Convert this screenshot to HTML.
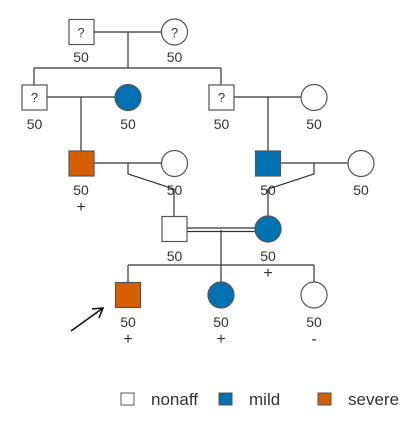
<!DOCTYPE html>
<html><head><meta charset="utf-8"><style>
html,body{margin:0;padding:0;background:#fff}
svg text{font-family:"Liberation Sans",sans-serif;fill:#333}
</style></head><body>
<svg width="412" height="421" viewBox="0 0 412 421">
<g stroke="#333" stroke-width="1.2" fill="none">
<path d="M94 32H161M128 32V68M34 68H221M34 68V85M221 68V85"/>
<path d="M47 97H115M81 97V151"/>
<path d="M234 97H301M268 97V151"/>
<path d="M94 163H161M128 163V174L174 189V216"/>
<path d="M281 163H348M314 163V174L268 189V216"/>
<path d="M187 228H255M187 231.5H255M221 230V265M128 265H314M128 265V282M221 265V282M314 265V282"/>
</g>
<g stroke="#555" stroke-width="1.2">
<rect x="69" y="19.5" width="25" height="25" fill="#fff"/>
<circle cx="174.5" cy="32" r="13" fill="#fff"/>
<rect x="22" y="85" width="25" height="25" fill="#fff"/>
<circle cx="128" cy="97.5" r="13" fill="#0072B2"/>
<rect x="209" y="85" width="25" height="25" fill="#fff"/>
<circle cx="314" cy="97.5" r="13" fill="#fff"/>
<rect x="69" y="151" width="25" height="25" fill="#D55E00"/>
<circle cx="174.5" cy="163.5" r="13" fill="#fff"/>
<rect x="255.5" y="151" width="25" height="25" fill="#0072B2"/>
<circle cx="361" cy="163.5" r="13" fill="#fff"/>
<rect x="162" y="216.5" width="25" height="25" fill="#fff"/>
<circle cx="268" cy="229" r="13" fill="#0072B2"/>
<rect x="115.5" y="282.5" width="25" height="25" fill="#D55E00"/>
<circle cx="221" cy="295" r="13" fill="#0072B2"/>
<circle cx="314" cy="295" r="13" fill="#fff"/>
</g>
<g font-size="13" text-anchor="middle">
<text x="81" y="37">?</text><text x="174.5" y="37">?</text>
<text x="34.5" y="102">?</text><text x="221.5" y="102">?</text>
<text x="81" y="62" font-size="14">50</text><text x="174.5" y="62" font-size="14">50</text>
<text x="34.5" y="129" font-size="14">50</text><text x="128" y="129" font-size="14">50</text>
<text x="221.5" y="129" font-size="14">50</text><text x="314" y="129" font-size="14">50</text>
<text x="81" y="195" font-size="14">50</text><text x="174.5" y="195" font-size="14">50</text>
<text x="268" y="195" font-size="14">50</text><text x="361" y="195" font-size="14">50</text>
<text x="81" y="212" font-size="16">+</text>
<text x="174.5" y="261" font-size="14">50</text><text x="268" y="261" font-size="14">50</text>
<text x="268" y="278" font-size="16">+</text>
<text x="128" y="327" font-size="14">50</text><text x="221" y="327" font-size="14">50</text><text x="314" y="327" font-size="14">50</text>
<text x="128" y="344" font-size="16">+</text><text x="221" y="344" font-size="16">+</text><text x="314" y="344" font-size="16">-</text>
</g>
<g stroke="#111" stroke-width="1.6" fill="none">
<path d="M71 331L103 308M92 309L103 308L99 318"/>
</g>
<g>
<rect x="121" y="393" width="13" height="12" fill="#fff" stroke="#555"/>
<text x="151" y="405" font-size="17">nonaff</text>
<rect x="219" y="393" width="13" height="12" fill="#0072B2" stroke="#555"/>
<text x="249" y="405" font-size="17">mild</text>
<rect x="318" y="393" width="13" height="12" fill="#D55E00" stroke="#555"/>
<text x="348" y="405" font-size="17">severe</text>
</g>
</svg>
</body></html>
